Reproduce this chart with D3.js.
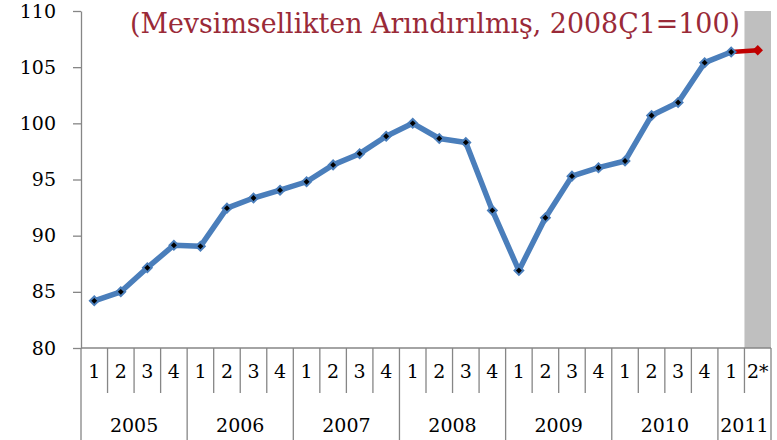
<!DOCTYPE html>
<html>
<head>
<meta charset="utf-8">
<script src="https://cdn.jsdelivr.net/npm/d3@7"></script>
<style>
  body { margin: 0; background: #fff; }
  svg { display: block; }
  text { font-family: "DejaVu Serif", serif; }
</style>
</head>
<body>
<script>
const years = ["2005", "2006", "2007", "2008", "2009", "2010", "2011"];
const quarterLabels = [
  "1", "2", "3", "4", "1", "2", "3", "4", "1", "2", "3", "4",
  "1", "2", "3", "4", "1", "2", "3", "4", "1", "2", "3", "4",
  "1", "2*"
];
const quarterYears = [
  "2005", "2005", "2005", "2005", "2006", "2006", "2006", "2006",
  "2007", "2007", "2007", "2007", "2008", "2008", "2008", "2008",
  "2009", "2009", "2009", "2009", "2010", "2010", "2010", "2010",
  "2011", "2011"
];
const values = [
  84.2, 85.0, 87.15, 89.15, 89.05, 92.45, 93.35, 94.05,
  94.8, 96.3, 97.3, 98.85, 100.0, 98.65, 98.3, 92.25,
  86.9, 91.6, 95.3, 96.05, 96.65, 100.7, 101.85, 105.4,
  106.35, 106.5
];
const yTicks = [80, 85, 90, 95, 100, 105, 110];
const title = "(Mevsimsellikten Arındırılmış, 2008Ç1=100)";
const estimateIndex = 25; // 2011 2* is the estimate (red, shaded)

const width = 777, height = 440;
const margin = { left: 81, right: 6, top: 11, bottom: 92 };

const svg = d3.select("body").append("svg")
  .attr("width", width)
  .attr("height", height);

const idx = d3.range(values.length);

const x = d3.scaleBand()
  .domain(idx)
  .range([margin.left, width - margin.right]);

const y = d3.scaleLinear()
  .domain([80, 110])
  .range([height - margin.bottom, margin.top]);

const axisColor = "#868686";
const y0 = y(80);

// shaded estimate column
svg.append("rect")
  .attr("x", x(estimateIndex))
  .attr("y", y(110))
  .attr("width", x.bandwidth())
  .attr("height", y0 - y(110))
  .attr("fill", "#bfbfbf");

// title
svg.append("text")
  .attr("x", 435)
  .attr("y", 33)
  .attr("text-anchor", "middle")
  .attr("fill", "#9a2a38")
  .style("font-size", "28px")
  .attr("textLength", 610)
  .attr("lengthAdjust", "spacingAndGlyphs")
  .text(title);

// y axis
const yAxis = svg.append("g")
  .attr("transform", `translate(${margin.left},0)`)
  .call(d3.axisLeft(y).tickValues(yTicks).tickSize(8).tickSizeOuter(0).tickPadding(17));
yAxis.selectAll("path, line").attr("stroke", axisColor).attr("stroke-width", 1.3);
yAxis.selectAll("text")
  .attr("fill", "#000")
  .style("font-size", "19px")
  .style("font-family", "'DejaVu Serif', serif");

// x axis line
svg.append("line")
  .attr("x1", margin.left).attr("x2", width - margin.right)
  .attr("y1", y0).attr("y2", y0)
  .attr("stroke", axisColor).attr("stroke-width", 1.3);

// category separators
const bounds = d3.range(values.length + 1);
const yearStarts = bounds.filter(i => i === values.length || i === 0 || quarterYears[i] !== quarterYears[i - 1]);
svg.append("g").selectAll("line")
  .data(bounds)
  .join("line")
  .attr("x1", i => i < values.length ? x(i) : x(i - 1) + x.bandwidth())
  .attr("x2", i => i < values.length ? x(i) : x(i - 1) + x.bandwidth())
  .attr("y1", y0)
  .attr("y2", i => yearStarts.includes(i) ? height : 393)
  .attr("stroke", axisColor)
  .attr("stroke-width", 1.3);

// quarter labels
svg.append("g").selectAll("text")
  .data(idx)
  .join("text")
  .attr("x", i => x(i) + x.bandwidth() / 2)
  .attr("y", 378)
  .attr("text-anchor", "middle")
  .style("font-size", "19px")
  .text(i => quarterLabels[i]);

// year labels
svg.append("g").selectAll("text")
  .data(years)
  .join("text")
  .attr("x", yr => {
    const ii = idx.filter(i => quarterYears[i] === yr);
    return (x(ii[0]) + x(ii[ii.length - 1]) + x.bandwidth()) / 2;
  })
  .attr("y", 432)
  .attr("text-anchor", "middle")
  .style("font-size", "19px")
  .text(yr => yr);

// lines
const line = d3.line()
  .x(i => x(i) + x.bandwidth() / 2)
  .y(i => y(values[i]));

svg.append("path")
  .datum([estimateIndex - 1, estimateIndex])
  .attr("d", line)
  .attr("fill", "none")
  .attr("stroke", "#c00000")
  .attr("stroke-width", 4.5);

svg.append("path")
  .datum(idx.slice(0, estimateIndex))
  .attr("d", line)
  .attr("fill", "none")
  .attr("stroke", "#4a7ebb")
  .attr("stroke-width", 5.5)
  .attr("stroke-linejoin", "round");

// markers
const diamond = d3.symbol().type(d3.symbolSquare);
svg.append("g").selectAll("path")
  .data(idx.slice(0, estimateIndex))
  .join("path")
  .attr("d", diamond.size(38)())
  .attr("transform", i => `translate(${x(i) + x.bandwidth() / 2},${y(values[i])}) rotate(45)`)
  .attr("fill", "#000")
  .attr("stroke", "#4a7ebb")
  .attr("stroke-width", 2);

svg.append("path")
  .attr("d", d3.symbol().type(d3.symbolSquare).size(55)())
  .attr("transform", `translate(${x(estimateIndex) + x.bandwidth() / 2},${y(values[estimateIndex])}) rotate(45)`)
  .attr("fill", "#c00000");
</script>
</body>
</html>
